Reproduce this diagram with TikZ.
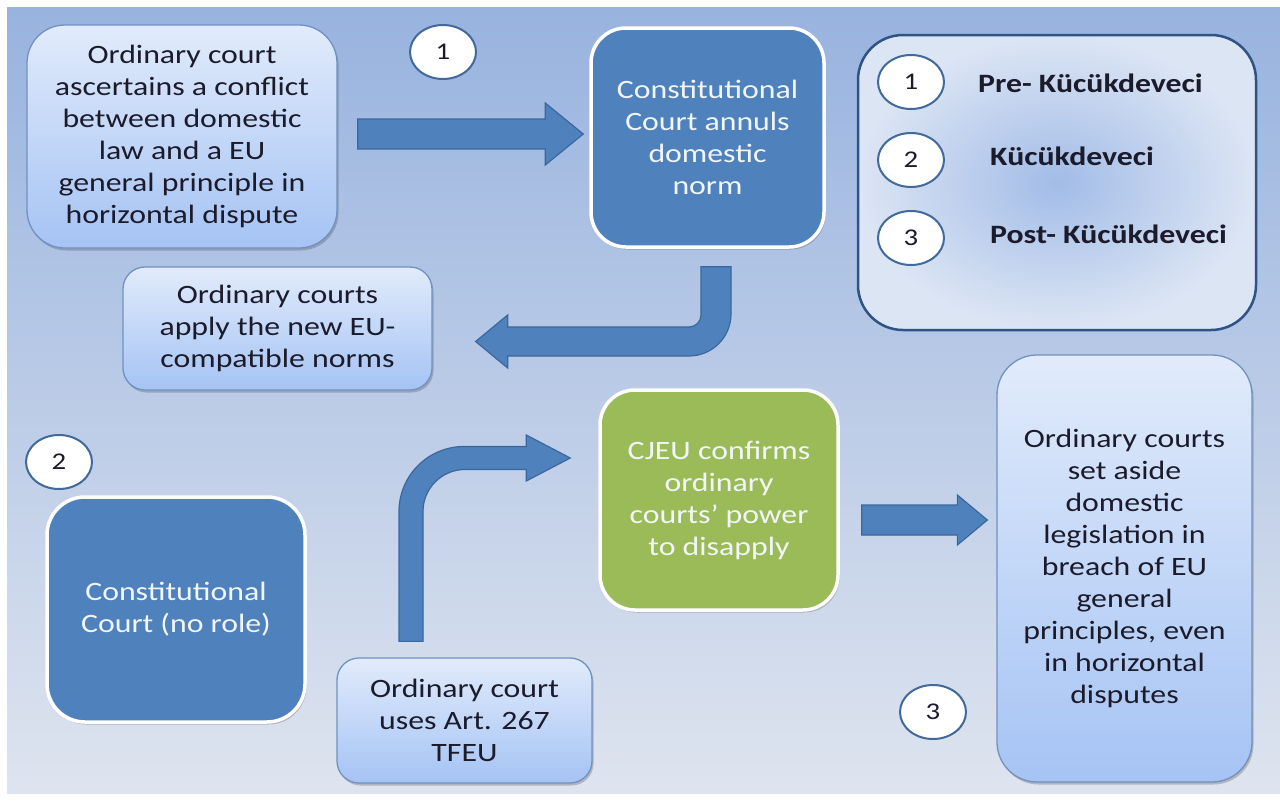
\documentclass[tikz,border=0pt]{standalone}
\usepackage{fontspec}
\setmainfont{Carlito}[FakeStretch=1.2]
\usetikzlibrary{calc,shadows,shapes.geometric}
\definecolor{bgtop}{HTML}{98B3DF}
\definecolor{bgmid}{HTML}{BBCBE9}
\definecolor{bgbot}{HTML}{DEE4EF}
\definecolor{lbtop}{HTML}{E1EBFB}
\definecolor{lbbot}{HTML}{A5C3F4}
\definecolor{lbline}{HTML}{7191C0}
\definecolor{darkfill}{HTML}{4F81BD}
\definecolor{greenfill}{HTML}{9BBB59}
\definecolor{arrline}{HTML}{3A679E}
\definecolor{circline}{HTML}{41699B}
\definecolor{legline}{HTML}{2E5384}
\definecolor{legin}{HTML}{A2BCE7}
\definecolor{legout}{HTML}{DCE5F4}
\definecolor{txt}{HTML}{1B1B2B}
\definecolor{wtxt}{HTML}{F2F6FB}
\newcommand\bodyfont{\fontsize{26.5}{32}\selectfont}
\newcommand\numfont{\fontsize{24}{28}\selectfont}
\newcommand\legfont{\fontsize{26.5}{32}\selectfont\bfseries}
\begin{document}
\begin{tikzpicture}[x=1pt,y=-1pt,
  boxshadow/.style={drop shadow={shadow xshift=1.5pt,shadow yshift=-2.5pt,opacity=0.3,fill=black!70}},
  lightbox/.style={rectangle,draw=lbline,line width=1.3pt,rounded corners=#1,
    top color=lbtop,bottom color=lbbot,text=txt,align=center,font=\bodyfont,inner sep=0pt,boxshadow},
  darkbox/.style={rectangle,draw=white,line width=3.5pt,rounded corners=#1,fill=darkfill,
    text=wtxt,align=center,font=\bodyfont,inner sep=0pt,boxshadow},
  greenbox/.style={rectangle,draw=white,line width=3.5pt,rounded corners=#1,fill=greenfill,
    text=wtxt,align=center,font=\bodyfont,inner sep=0pt,boxshadow},
  legendbox/.style={rectangle,draw=legline,line width=2.5pt,rounded corners=45pt,
    inner color=legin,outer color=legout,shading=radial,inner sep=0pt},
  numcirc/.style={ellipse,draw=circline,line width=2pt,fill=white,text=txt,font=\numfont,
    minimum width=66pt,minimum height=54pt,inner sep=0pt},
  legtext/.style={text=txt,font=\legfont,inner sep=0pt,anchor=base west},
  blockarrow/.style={fill=darkfill,draw=arrline,line width=1.2pt,line join=miter}]
\useasboundingbox (0,0) rectangle (1280,803);
\fill[white] (0,0) rectangle (1280,803);
\shade[top color=bgtop,middle color=bgmid,bottom color=bgbot] (7,7) rectangle (1280,793);

% nodes
\node[lightbox=38pt,minimum width=310pt,minimum height=223pt] (A) at (182,136.5)
  {Ordinary court\\ascertains a conflict\\between domestic\\law and a EU\\general principle in\\horizontal dispute};
\node[darkbox=35pt,minimum width=233pt,minimum height=219pt] (B) at (707.5,137.5)
  {Constitutional\\Court annuls\\domestic\\norm};
\node[lightbox=22pt,minimum width=309pt,minimum height=123pt] (D) at (277.5,328.5)
  {Ordinary courts\\apply the new EU-\\compatible norms};
\node[greenbox=35pt,minimum width=238pt,minimum height=220pt] (C) at (719,500)
  {CJEU confirms\\ordinary\\courts’ power\\to disapply};
\node[lightbox=40pt,minimum width=255pt,minimum height=427pt] (G) at (1124.5,568.5)
  {Ordinary courts\\set aside\\domestic\\legislation in\\breach of EU\\general\\principles, even\\in horizontal\\disputes};
\node[darkbox=38pt,minimum width=258pt,minimum height=225pt] (F) at (176,609.5)
  {Constitutional\\Court (no role)};
\node[lightbox=22pt,minimum width=255pt,minimum height=125pt] (E) at (464.5,720.5)
  {Ordinary court\\uses Art. 267\\TFEU};

% legend
\node[legendbox,minimum width=398pt,minimum height=295pt] (L) at (1057,182.5) {};
\node[numcirc] (l1) at (911,82) {1};
\node[numcirc] (l2) at (911,160) {2};
\node[numcirc] (l3) at (911,238) {3};
\node[legtext] (t1) at (978,92) {Pre- Kücükdeveci};
\node[legtext] (t2) at (990,165) {Kücükdeveci};
\node[legtext] (t3) at (990,243) {Post- Kücükdeveci};

% stage numbers
\node[numcirc] (n1) at (443,52) {1};
\node[numcirc] (n2) at (59,462) {2};
\node[numcirc] (n3) at (933,712) {3};

% straight block arrows
\path[blockarrow] let \p1=($(A.east)+(20pt,2.5pt)$), \p2=($(B.west)+(-6pt,0pt)$) in
  (\x1,\y1+15pt) -- (\x2-38pt,\y1+15pt) -- (\x2-38pt,\y1+31pt) -- (\x2,\y1)
  -- (\x2-38pt,\y1-31pt) -- (\x2-38pt,\y1-15pt) -- (\x1,\y1-15pt) -- cycle;
\path[blockarrow] let \p1=($(C.east)+(22pt,-20pt)$), \p2=($(G.west)+(-9pt,0pt)$) in
  (\x1,\y1+15pt) -- (\x2-30pt,\y1+15pt) -- (\x2-30pt,\y1+25pt) -- (\x2,\y1)
  -- (\x2-30pt,\y1-25pt) -- (\x2-30pt,\y1-15pt) -- (\x1,\y1-15pt) -- cycle;

% elbow arrow B -> D
\path[blockarrow] let \p1=($(B.south)+(8.5pt,-18pt)$), \p2=($(D.east)+(43pt,-13pt)$) in
  (\x1-15pt,\y1) -- (\x1-15pt,\y2+26.5pt)
  .. controls (\x1-15pt,\y2+19.9pt) and (\x1-20.4pt,\y2+14.5pt) .. (\x1-27pt,\y2+14.5pt)
  -- (\x2+32pt,\y2+14.5pt) -- (\x2+32pt,\y2+26.5pt) -- (\x2,\y2)
  -- (\x2+32pt,\y2-26.5pt) -- (\x2+32pt,\y2-14.5pt) -- (\x1-27pt,\y2-14.5pt)
  .. controls (\x1-3.8pt,\y2-14.5pt) and (\x1+15pt,\y2+4.3pt) .. (\x1+15pt,\y2+27.5pt)
  -- (\x1+15pt,\y1) -- cycle;

% bent-up arrow E -> C
\path[blockarrow] let \p1=($(E.north)+(-53.5pt,16pt)$), \p2=($(C.west)+(-28pt,42pt)$) in
  (\x1-12pt,\y1) -- (\x1-12pt,\y2-53.5pt)
  .. controls (\x1-12pt,\y2-17.6pt) and (\x1+17.1pt,\y2+11.5pt) .. (\x1+53pt,\y2+11.5pt)
  -- (\x2-44pt,\y2+11.5pt) -- (\x2-44pt,\y2+23pt) -- (\x2,\y2)
  -- (\x2-44pt,\y2-23pt) -- (\x2-44pt,\y2-11.5pt) -- (\x1+54pt,\y2-11.5pt)
  .. controls (\x1+30.8pt,\y2-11.5pt) and (\x1+12pt,\y2-30.3pt) .. (\x1+12pt,\y2-53.5pt)
  -- (\x1+12pt,\y1) -- cycle;
\end{tikzpicture}
\end{document}
